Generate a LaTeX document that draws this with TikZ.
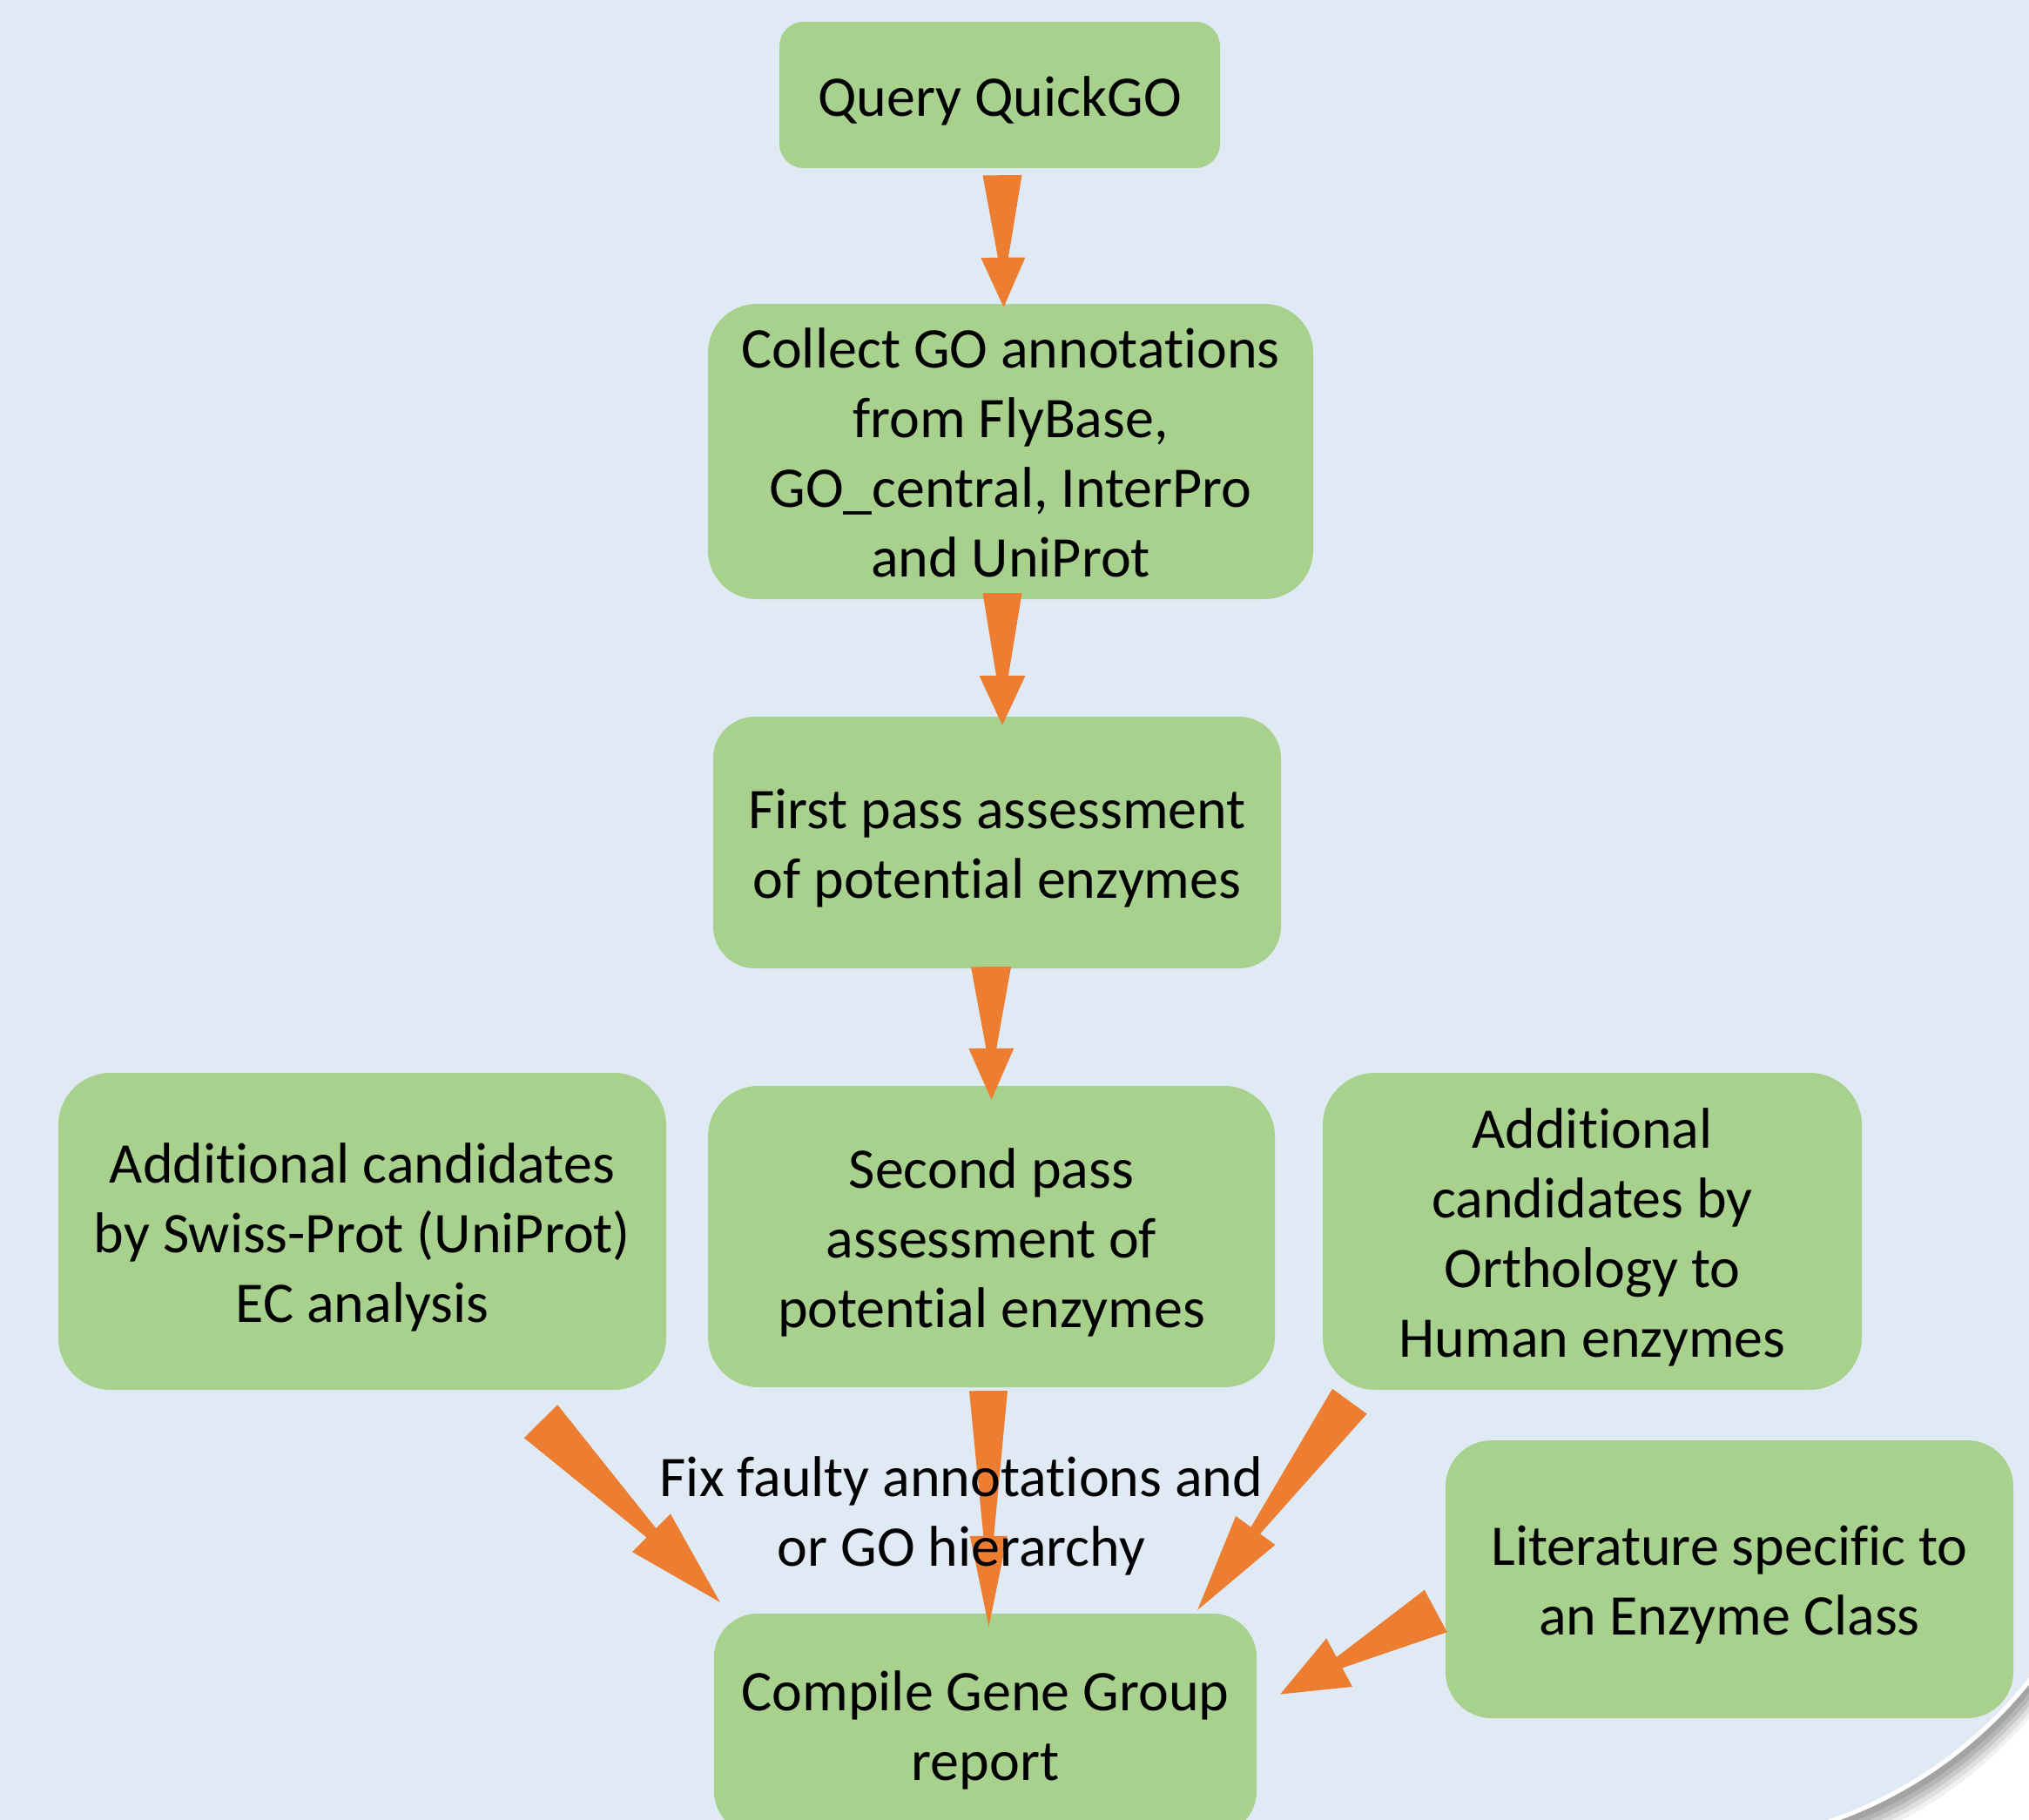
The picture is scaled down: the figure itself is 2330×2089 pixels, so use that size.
\documentclass[tikz,border=0pt]{standalone}
\usepackage{fontspec}
\setmainfont{Carlito}[Ligatures={NoCommon}]
\usetikzlibrary{calc}
\definecolor{bgblue}{HTML}{DFEAF5}
\definecolor{boxgreen}{HTML}{A9D18E}
\definecolor{arroworange}{HTML}{ED7D31}
\newcommand\lstrut{\rule[-16pt]{0pt}{80pt}}
\tikzset{
  box/.style={fill=boxgreen, draw=none, inner sep=0pt, align=center,
    font=\fontsize{66pt}{80pt}\selectfont, text=black},
  arrowfill/.style={fill=arroworange, draw=none},
  lbl/.style={align=center, inner sep=0pt, font=\fontsize{66pt}{80pt}\selectfont, text=black}
}
% block arrow: tail, tip, tail half width, neck half width, head half width, head length
\newcommand\blockarrow[6]{%
  \coordinate (ah) at ($(#2)!#6pt!(#1)$);
  \fill[arrowfill] ($(#1)!#3pt!90:(#2)$) -- ($(ah)!#4pt!90:(#2)$) -- ($(ah)!#5pt!90:(#2)$)
    -- (#2) -- ($(ah)!#5pt!-90:(#2)$) -- ($(ah)!#4pt!-90:(#2)$) -- ($(#1)!#3pt!-90:(#2)$) -- cycle;
}
\def\pagepath{(-60,-60) -- (2441,-60) -- (2441,1615) arc[start angle=0, end angle=-90, radius=504pt] -- (-60,2119) -- cycle}
\begin{document}
\begin{tikzpicture}[x=1pt, y=-1pt]
\useasboundingbox (0,0) rectangle (2330,2089);
\fill[white] (0,0) rectangle (2330,2089);
% page with soft shadow
\fill[gray!12, shift={(12pt,-29pt)}] \pagepath;
\fill[gray!26, shift={(10pt,-24pt)}] \pagepath;
\fill[gray!42, shift={(8pt,-19pt)}] \pagepath;
\fill[gray!58, shift={(6pt,-14pt)}] \pagepath;
\fill[gray!72, shift={(4pt,-9pt)}] \pagepath;
\fill[bgblue, draw=white, line width=5pt] \pagepath;

% boxes
\node[box, minimum width=506pt, minimum height=168pt, rounded corners=28pt] (q) at (1148,109)
  {\lstrut Query QuickGO};
\node[box, minimum width=695pt, minimum height=339pt, rounded corners=56pt] (c) at (1160.5,518.5)
  {\lstrut Collect GO annotations\\\lstrut from FlyBase,\\\lstrut GO\_central, InterPro\\\lstrut and UniProt};
\node[box, minimum width=652pt, minimum height=289pt, rounded corners=48pt] (f) at (1145,967.5)
  {\lstrut First pass assessment\\\lstrut of potential enzymes};
\node[box, minimum width=698pt, minimum height=364pt, rounded corners=60pt] (s) at (416,1414)
  {\lstrut Additional candidates\\\lstrut by Swiss-Prot (UniProt)\\\lstrut EC analysis};
\node[box, minimum width=651pt, minimum height=346pt, rounded corners=58pt] (p) at (1138.5,1420)
  {\lstrut Second pass\\\lstrut assessment of\\\lstrut potential enzymes};
\node[box, minimum width=619pt, minimum height=364pt, rounded corners=60pt] (o) at (1828.5,1414)
  {\lstrut Additional\\\lstrut candidates by\\\lstrut Orthology to\\\lstrut Human enzymes};
\node[box, minimum width=652pt, minimum height=319pt, rounded corners=53pt] (l) at (1986,1813.5)
  {\lstrut Literature specific to\\\lstrut an Enzyme Class};
\node[box, minimum width=623pt, minimum height=254pt, rounded corners=50pt] (g) at (1131.5,1980)
  {\lstrut Compile Gene Group\\\lstrut report};

% arrow ends
\coordinate (t1) at ($(q.south)+(3,8)$);
\coordinate (h1) at ($(c.north)+(-8,4)$);
\coordinate (t2) at ($(c.south)+(-9.5,-7)$);
\coordinate (h2) at ($(f.north)+(6,10)$);
\coordinate (t3) at ($(f.south)+(-7,-2)$);
\coordinate (h3) at ($(p.north)+(0,16)$);
\coordinate (t4) at ($(p.south)+(-3.5,4)$);
\coordinate (h4) at ($(g.north)+(4,15)$);
\coordinate (t5) at ($(o.south west)+(31,13)$);
\coordinate (h5) at ($(g.north east)+(-68,-4)$);
\coordinate (t6) at ($(l.west)+(-11,36.5)$);
\coordinate (h6) at ($(g.east)+(27,-34.5)$);
\coordinate (t7) at ($(s.south)+(205,36)$);
\coordinate (h7) at ($(g.north west)+(7,-13)$);

\blockarrow{t1}{h1}{22.5}{6}{25.5}{57}
\blockarrow{t2}{h2}{22.5}{7}{26.5}{57}
\blockarrow{t3}{h3}{23}{6}{26}{59}
\blockarrow{t4}{h4}{22}{6}{21.5}{104}
\blockarrow{t5}{h5}{24.5}{6.5}{28}{113}
\blockarrow{t6}{h6}{27.5}{7}{31.5}{77}
\blockarrow{t7}{h7}{27}{7.5}{31}{112}

\node[lbl] (fix) at (1104,1734) {\lstrut Fix faulty annotations and\\\lstrut or GO hierarchy};
\end{tikzpicture}
\end{document}
